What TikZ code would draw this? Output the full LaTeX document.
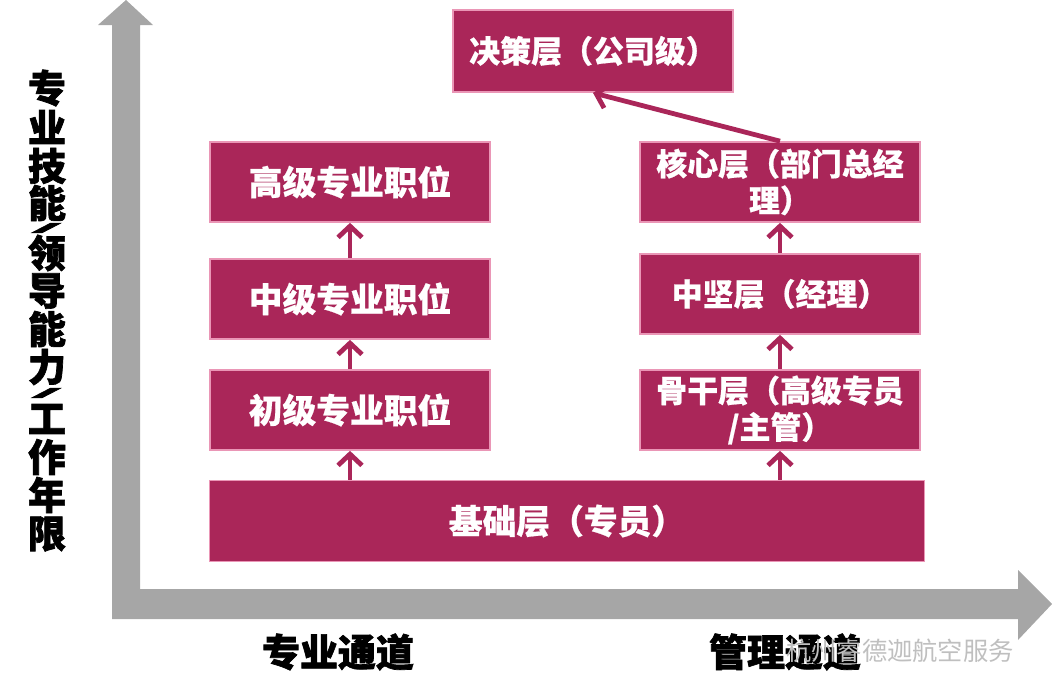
\documentclass[tikz,border=0pt]{standalone}
\usepackage{fontspec}
\setmainfont{Noto Sans CJK SC}[BoldFeatures={FakeBold=0.6}]
\newfontfamily\heavyfont{Noto Sans CJK SC}[BoldFeatures={FakeBold=1.8}]
\usepackage{tikz}
\usepackage{xcolor}
\usetikzlibrary{arrows.meta, positioning}

\definecolor{layerred}{RGB}{170,38,89}
\definecolor{layeredge}{RGB}{234,150,182}
\definecolor{axisgray}{RGB}{166,166,166}

\tikzset{
  layer/.style={fill=layerred, draw=layeredge, line width=1.2pt, text=white,
    minimum width=7cm, minimum height=2cm, align=center, inner sep=0pt,
    font=\bfseries\fontsize{24}{28}\selectfont},
  mgmt/.style={font=\bfseries\fontsize{22}{26}\selectfont},
  promote/.style={draw=layerred, line width=3.4pt,
    -{Straight Barb[length=8pt,width=17pt]}},
  axislabel/.style={font=\heavyfont\bfseries\fontsize{27}{30}\selectfont, inner sep=0pt}
}

\begin{document}
\begin{tikzpicture}[x=0.025cm, y=-0.025cm]
  \useasboundingbox (0,0) rectangle (1052,697);
  % Fat gray axes (one outline, corner at bottom left)
  \fill[axisgray] (112,619) -- (112,25) -- (98,25) -- (126,0) -- (153,25)
    -- (140,25) -- (140,589) -- (1018,589) -- (1018,570) -- (1052,604)
    -- (1018,640) -- (1018,619) -- cycle;
  % Vertical axis label, one glyph per line
  \foreach \glyph/\gy in {专/88, 业/127, 技/166, 能/203, 领/253, 导/291,
      能/329, 力/367, 工/419, 作/457, 年/495, 限/534}
    \node[axislabel] at (47,\gy) {\glyph};
  % slashes lie flat in the vertical text
  \foreach \gy in {228, 393}
    \node[axislabel, font=\heavyfont\bfseries\fontsize{22}{22}\selectfont]
      at (47,\gy) {\scalebox{2.8}[0.32]{/}};
  % Horizontal axis labels
  \node[axislabel] (prof) at (338,652) {专业通道};
  \node[axislabel] (mgr) at (785,652) {管理通道};
  \node[font=\fontsize{18}{20}\selectfont, text=gray!50] (mark) at (900,651) {杭州睿德迦航空服务};
  % Shared base layer
  \node[layer, minimum width=17.875cm, minimum height=2.025cm] (base) at (567,521) {基础层（专员）};
  % Professional track
  \node[layer] (junior) at (350,410) {初级专业职位};
  \node[layer] (middle) at (350,299) {中级专业职位};
  \node[layer] (senior) at (350,182) {高级专业职位};
  % Management track
  \node[layer, mgmt] (backbone) at (780,410) {骨干层（高级专员\\/主管）};
  \node[layer, mgmt] (mainstay) at (780,294) {中坚层（经理）};
  \node[layer, mgmt] (core) at (780,182) {核心层（部门总经\\理）};
  \node[layer, mgmt, minimum height=2.05cm] (decision) at (593,51) {决策层（公司级）};
  % Promotion arrows
  \draw[promote] (base.north -| junior) -- (junior.south);
  \draw[promote] (junior) -- (middle);
  \draw[promote] (middle) -- (senior);
  \draw[promote] (base.north -| backbone) -- (backbone.south);
  \draw[promote] (backbone) -- (mainstay);
  \draw[promote] (mainstay) -- (core);
  \draw[promote] (core.north) -- (decision.south);
\end{tikzpicture}
\end{document}
